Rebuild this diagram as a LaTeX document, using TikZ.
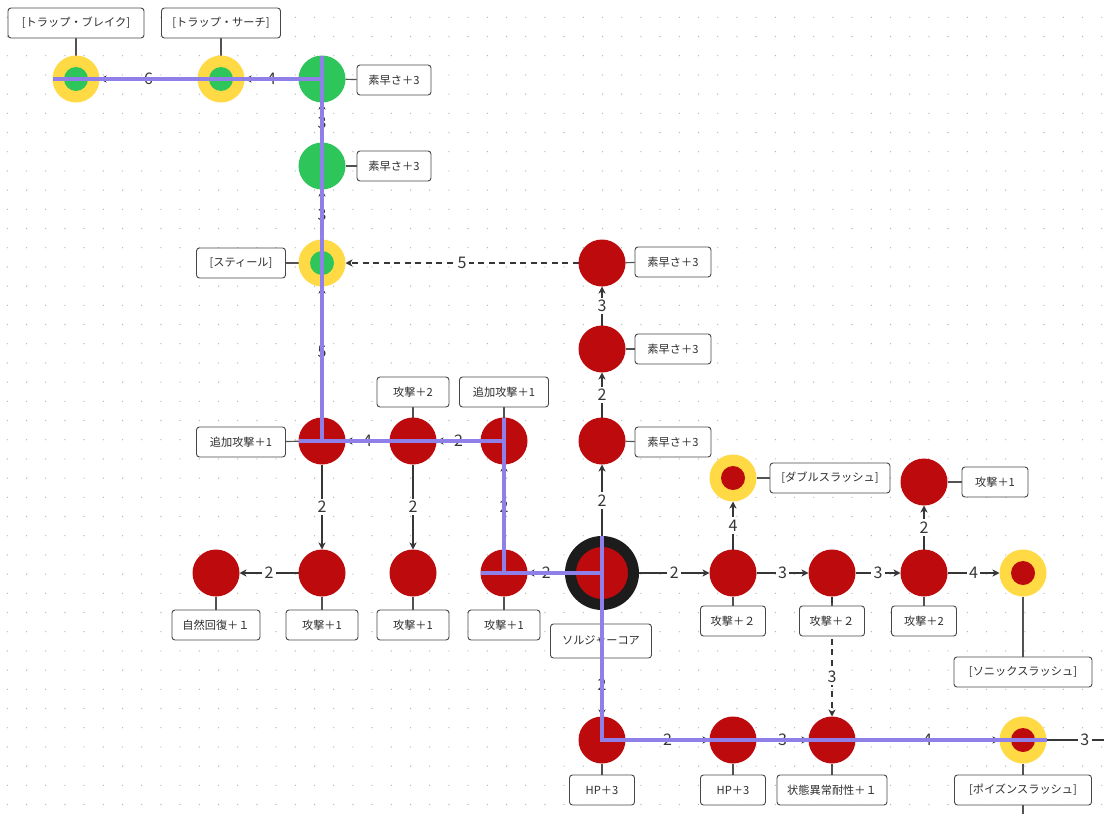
\documentclass[tikz,border=0pt]{standalone}
\usepackage{fontspec}
\setmainfont{Noto Sans CJK JP}
\usetikzlibrary{arrows.meta}
\definecolor{nred}{HTML}{BD0B0D}
\definecolor{ngreen}{HTML}{2EC65A}
\definecolor{nyellow}{HTML}{FFDA45}
\definecolor{hlc}{HTML}{8E80E8}
\definecolor{edgec}{HTML}{363636}
\definecolor{dotc}{HTML}{AFAFAF}
\definecolor{corec}{HTML}{1C1C1C}
\pgfdeclarelayer{grid}
\pgfdeclarelayer{bg}
\pgfdeclarelayer{top}
\pgfsetlayers{grid,bg,main,top}
\tikzset{
  rn/.style={circle, fill=nred, minimum size=47pt, inner sep=0pt, outer sep=0pt},
  gn/.style={circle, fill=ngreen, minimum size=47pt, inner sep=0pt, outer sep=0pt},
  yr/.style={circle, fill=nyellow, minimum size=47pt, inner sep=0pt, outer sep=0pt,
    path picture={\fill[#1] (path picture bounding box.center) circle (12pt);}},
  corenode/.style={circle, fill=nred, draw=corec, line width=11pt, minimum size=63pt, inner sep=0pt, outer sep=5.5pt},
  lbl/.style={draw=black!72, fill=white, rounded corners=3pt, minimum height=30pt, inner sep=2pt,
    font=\fontsize{11.2}{13}\selectfont, text=black!82, line width=0.9pt},
  ed/.style={draw=edgec, line width=1.2pt, -{Stealth[length=7pt,width=7pt,inset=2pt]}},
  edd/.style={ed, dash pattern=on 6pt off 4.5pt},
  el/.style={fill=white, inner sep=2.5pt, font=\fontsize{16}{18}\selectfont, text=edgec},
  cn/.style={draw=black!68, line width=1.2pt},
  hl/.style={draw=hlc, line width=3.6pt}
}
\begin{document}
\begin{tikzpicture}[x=1pt,y=-1pt]
\useasboundingbox (0,0) rectangle (1104,814);
\begin{pgfonlayer}{grid}
\fill[white] (0,0) rectangle (1104,814);
\foreach \i in {0,...,57}{\foreach \j in {0,...,41}{\fill[dotc] (7.3+19.2*\i,17.3+19.2*\j) circle (0.65pt);}}
\end{pgfonlayer}

% skill nodes
\node[yr=ngreen] (tb) at (76,79) {};
\node[yr=ngreen] (ts) at (221,79) {};
\node[gn] (g1) at (322,79) {};
\node[gn] (g2) at (322,166) {};
\node[yr=ngreen] (st) at (322,263) {};
\node[rn] (a1) at (322,441) {};
\node[rn] (a2) at (413,441) {};
\node[rn] (a3) at (504,441) {};
\node[rn] (s1) at (602,441) {};
\node[rn] (s2) at (602,349) {};
\node[rn] (s3) at (602,263) {};
\node[rn] (n1) at (216,573) {};
\node[rn] (b1) at (322,573) {};
\node[rn] (b2) at (413,573) {};
\node[rn] (a5) at (504,573) {};
\node[corenode] (core) at (602,573) {};
\node[rn] (c1) at (733,573) {};
\node[rn] (c2) at (832,573) {};
\node[rn] (c3) at (924,573) {};
\node[yr=nred] (son) at (1023,573) {};
\node[yr=nred] (dbl) at (733,478) {};
\node[rn] (t1) at (924,482) {};
\node[rn] (h1) at (602,740) {};
\node[rn] (h2) at (733,740) {};
\node[rn] (sa) at (832,740) {};
\node[yr=nred] (poi) at (1023,740) {};
\coordinate (pout) at (1123,740);
\coordinate (pdown) at (1023,830);

% label boxes
\node[lbl, minimum width=136pt] (Ltb) at (76,23) {[トラップ・ブレイク]};
\node[lbl, minimum width=119pt] (Lts) at (221,23) {[トラップ・サーチ]};
\node[lbl, minimum width=74pt] (Lg1) at (394,80) {素早さ＋3};
\node[lbl, minimum width=74pt] (Lg2) at (394,166) {素早さ＋3};
\node[lbl, minimum width=89pt] (Lst) at (241,263) {[スティール]};
\node[lbl, minimum width=89pt] (La1) at (241,442) {追加攻撃＋1};
\node[lbl, minimum width=72pt] (La2) at (413,392) {攻撃＋2};
\node[lbl, minimum width=89pt] (La3) at (504,392) {追加攻撃＋1};
\node[lbl, minimum width=76pt] (Ls1) at (673,442) {素早さ＋3};
\node[lbl, minimum width=76pt] (Ls2) at (673,349) {素早さ＋3};
\node[lbl, minimum width=76pt] (Ls3) at (673,262) {素早さ＋3};
\node[lbl, minimum width=88pt] (Ln1) at (216,625) {自然回復＋１};
\node[lbl, minimum width=72pt] (Lb1) at (322,625) {攻撃＋1};
\node[lbl, minimum width=72pt] (Lb2) at (413,625) {攻撃＋1};
\node[lbl, minimum width=72pt] (La5) at (504,625) {攻撃＋1};
\node[lbl, minimum width=101pt, minimum height=34pt] (Lcore) at (601,641) {ソルジャーコア};
\node[lbl, minimum width=65pt] (Lc1) at (733,621) {攻撃＋２};
\node[lbl, minimum width=65pt] (Lc2) at (832,621) {攻撃＋２};
\node[lbl, minimum width=65pt] (Lc3) at (924,621) {攻撃＋2};
\node[lbl, minimum width=138pt] (Lson) at (1023,672) {[ソニックスラッシュ]};
\node[lbl, minimum width=120pt] (Ldbl) at (830,478) {[ダブルスラッシュ]};
\node[lbl, minimum width=66pt] (Lt1) at (995,482) {攻撃＋1};
\node[lbl, minimum width=65pt] (Lh1) at (602,790) {HP＋3};
\node[lbl, minimum width=65pt] (Lh2) at (733,790) {HP＋3};
\node[lbl, minimum width=110pt] (Lsa) at (832,790) {状態異常耐性＋１};
\node[lbl, minimum width=137pt] (Lpoi) at (1023,790) {[ポイズンスラッシュ]};

\begin{pgfonlayer}{bg}
% connectors to labels
\foreach \n/\l in {tb/Ltb, ts/Lts, g1/Lg1, g2/Lg2, st/Lst, a1/La1, a2/La2, a3/La3, s1/Ls1, s2/Ls2, s3/Ls3,
  n1/Ln1, b1/Lb1, b2/Lb2, a5/La5, core/Lcore, c1/Lc1, c2/Lc2, c3/Lc3, son/Lson, dbl/Ldbl, t1/Lt1,
  h1/Lh1, h2/Lh2, sa/Lsa, poi/Lpoi}{\draw[cn] (\n) -- (\l);}
\draw[cn] (Lpoi) -- (pdown);
% edges
\draw[ed] (core) -- node[el]{2} (s1);
\draw[ed] (s1) -- node[el]{2} (s2);
\draw[ed] (s2) -- node[el]{3} (s3);
\draw[edd] (s3) -- node[el]{5} (st);
\draw[ed] (st) -- node[el]{3} (g2);
\draw[ed] (g2) -- node[el]{3} (g1);
\draw[ed] (g1) -- node[el]{4} (ts);
\draw[ed] (ts) -- node[el]{6} (tb);
\draw[ed] (a1) -- node[el]{5} (st);
\draw[ed] (core) -- node[el]{2} (a5);
\draw[ed] (a5) -- node[el]{2} (a3);
\draw[ed] (a3) -- node[el]{2} (a2);
\draw[ed] (a2) -- node[el]{4} (a1);
\draw[ed] (a1) -- node[el]{2} (b1);
\draw[ed] (b1) -- node[el]{2} (n1);
\draw[ed] (a2) -- node[el]{2} (b2);
\draw[ed] (core) -- node[el]{2} (c1);
\draw[ed] (c1) -- node[el]{3} (c2);
\draw[ed] (c2) -- node[el]{3} (c3);
\draw[ed] (c3) -- node[el]{4} (son);
\draw[ed] (c1) -- node[el]{4} (dbl);
\draw[ed] (c3) -- node[el]{2} (t1);
\draw[edd] (c2) -- node[el, pos=0.67]{3} (sa);
\draw[ed] (core) -- node[el, pos=0.7]{2} (h1);
\draw[ed] (h1) -- node[el]{2} (h2);
\draw[ed] (h2) -- node[el]{3} (sa);
\draw[ed] (sa) -- node[el]{4} (poi);
\draw[ed] (poi) -- node[el]{3} (pout);
\end{pgfonlayer}

\begin{pgfonlayer}{top}
\draw[hl] (tb.west) -- (g1.center);
\draw[hl] (g1.north) -- (a1.center);
\draw[hl] (a1.west) -- (a3.center);
\draw[hl] (a3.north) -- (a5.center);
\draw[hl] (a5.west) -- (core.center);
\draw[hl] (core.north) -- (h1.center) -- (poi.east);
\end{pgfonlayer}
\end{tikzpicture}
\end{document}
